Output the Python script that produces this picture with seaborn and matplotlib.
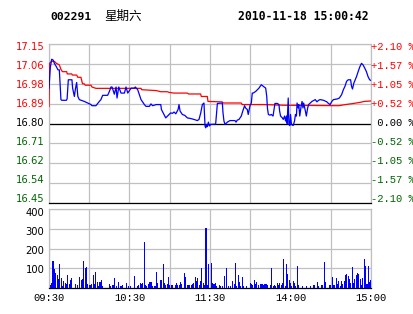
import matplotlib
matplotlib.use("Agg")
import matplotlib.pyplot as plt
import matplotlib.transforms as mtrans
import seaborn as sns

# ---------------- data ----------------
stock_code = "002291"
weekday = "星期六"
timestamp = "2010-11-18 15:00:42"
prev_close = 16.80
price_labels = ["17.15", "17.06", "16.98", "16.89", "16.80", "16.71", "16.62", "16.54", "16.45"]
pct_labels = ["+2.10 %", "+1.57 %", "+1.05 %", "+0.52 %", " 0.00 %", "-0.52 %", "-1.05 %", "-1.57 %", "-2.10 %"]
vol_labels = ["400", "300", "200", "100"]
time_labels = ["09:30", "10:30", "11:30", "14:00", "15:00"]
time_ticks = [0, 60, 120, 180, 240]

# (minute since 09:30, price) -- morning session
price_am = [
    (0, 16.957), (1, 17.050), (2, 17.085), (3, 17.082), (4, 17.067), (5.5, 17.052), (6.7, 17.038),
    (7.7, 17.038), (8.9, 16.906), (9.5, 16.903), (13, 16.903), (13.5, 16.910), (14.4, 16.994),
    (17.1, 16.994), (17.6, 16.957), (18.9, 16.920), (19.6, 16.950), (20.6, 16.982), (21.5, 16.920),
    (22.6, 16.906), (26.3, 16.898), (28.8, 16.891), (31.3, 16.884), (32, 16.879), (35, 16.879),
    (37.5, 16.898), (38.7, 16.906), (40, 16.925), (43.7, 16.925), (45, 16.942), (46.2, 16.962),
    (47, 16.962), (48.7, 16.930), (50, 16.962), (50.7, 16.913), (52, 16.962), (53.7, 16.935),
    (56.2, 16.935), (57.4, 16.962), (58.7, 16.935), (61.2, 16.957), (63.6, 16.957), (64.3, 16.962),
    (66.1, 16.950), (68.6, 16.906), (71.1, 16.884), (72.3, 16.876), (74.8, 16.876), (76, 16.887),
    (77.2, 16.879), (80, 16.884), (83.3, 16.884), (83.8, 16.862), (85.3, 16.845), (87, 16.825),
    (88.3, 16.833), (89.5, 16.840), (90.7, 16.847), (92, 16.845), (93.2, 16.851), (94.5, 16.843),
    (96.2, 16.862), (96.9, 16.884), (97.7, 16.855), (99.4, 16.840), (101.2, 16.836), (103.1, 16.825),
    (105.6, 16.822), (108.1, 16.818), (110.6, 16.813), (111.8, 16.818), (113.1, 16.847),
    (114.3, 16.884), (115.5, 16.891), (116.3, 16.789), (116.8, 16.781), (117.5, 16.796),
    (118, 16.786), (118.8, 16.806), (119.5, 16.789),
]
# afternoon session (minute 120 = 13:00)
price_pm = [
    (120.5, 16.796), (124.2, 16.797), (125.5, 16.889), (129.2, 16.891), (129.7, 16.847),
    (130.4, 16.811), (131.2, 16.796), (132.9, 16.806), (134.9, 16.813), (138.6, 16.813),
    (139.4, 16.806), (140.3, 16.815), (141.6, 16.818), (143.3, 16.833), (144.8, 16.862),
    (145.8, 16.879), (146.5, 16.869), (147.8, 16.862), (148.5, 16.840), (149.8, 16.879),
    (150.8, 16.891), (151.5, 16.935), (152.2, 16.935), (154, 16.942), (156.5, 16.957),
    (158.2, 16.972), (159.7, 16.965), (161.5, 16.957), (162.3, 16.920), (162.8, 16.869),
    (163.5, 16.840), (164.7, 16.837), (165.7, 16.840), (167, 16.833), (167.7, 16.862),
    (168.4, 16.889), (170.2, 16.889), (171.4, 16.884), (171.9, 16.855), (172.6, 16.833),
    (173.9, 16.825), (174.6, 16.818), (175.6, 16.833), (176.3, 16.811), (177, 16.833),
    (177.5, 16.800), (178.3, 16.913), (178.8, 16.796), (179.5, 16.791), (180, 16.840),
    (180.7, 16.796), (182, 16.791), (183, 16.811), (183.7, 16.840), (184.4, 16.833),
    (184.9, 16.891), (185.7, 16.869), (186.2, 16.884), (186.9, 16.833), (187.9, 16.876),
    (188.6, 16.898), (189.3, 16.869), (189.8, 16.891), (191.1, 16.855), (191.8, 16.833),
    (192.8, 16.869), (193.5, 16.884), (194.8, 16.891), (196, 16.898), (198.5, 16.906),
    (199.7, 16.896), (200.9, 16.903), (202.1, 16.906), (204.6, 16.903), (207.1, 16.896),
    (208.3, 16.889), (209.5, 16.884), (210.8, 16.898), (212, 16.906), (214.9, 16.909),
    (216.4, 16.913), (218.1, 16.928), (219.4, 16.950), (220.6, 16.965), (221.8, 16.987),
    (223, 16.994), (224.8, 16.994), (225.5, 16.965), (226.2, 16.953), (227.2, 16.979),
    (228, 16.991), (229.2, 17.008), (230.4, 17.030), (231.7, 17.052), (232.9, 17.067),
    (234.1, 17.060), (235.4, 17.045), (236.6, 17.030), (237.8, 17.008), (239, 16.994),
    (240, 16.991),
]
# average price line
avg_points = [
    (0, 16.876), (0.4, 17.067), (2, 17.076), (4, 17.076), (5.5, 17.067), (7.7, 17.060),
    (8.9, 17.040), (10, 17.030), (13.2, 17.030), (13.6, 17.020), (17, 17.020), (17.4, 17.015),
    (20.6, 17.015), (21.5, 17.005), (23.8, 17.005), (25, 16.976), (26.3, 16.976), (27, 16.970),
    (31.3, 16.970), (32, 16.962), (35, 16.956), (68.6, 16.956), (69, 16.950), (80, 16.946),
    (83.3, 16.941), (88.3, 16.941), (89.5, 16.938), (93.2, 16.935), (103.1, 16.935), (104, 16.931),
    (113, 16.931), (113.5, 16.920), (118, 16.920), (118.5, 16.898), (129, 16.896), (130, 16.891),
    (143.3, 16.891), (144, 16.884), (153, 16.884), (160, 16.884), (175, 16.881), (216, 16.879),
    (221, 16.884), (227, 16.889), (232, 16.894), (235, 16.898), (240, 16.900),
]
# (minute, volume) -- morning
volume_am = [
    (1, 13), (2, 25), (3, 138), (4, 98), (5, 78), (6, 68), (7, 44), (8, 122), (9, 52), (10, 10),
    (11, 35), (12, 27), (13, 22), (14, 66), (15, 22), (16, 42), (17, 52), (20, 22), (21, 17),
    (23, 57), (24, 40), (25, 47), (26, 138), (27, 101), (28, 108), (29, 22), (30, 13), (31, 13),
    (32, 18), (33, 68), (34, 22), (35, 83), (36, 32), (37, 10), (38, 32), (39, 40), (40, 12),
    (45, 22), (46, 12), (47, 17), (48, 13), (49, 52), (50, 12), (52, 32), (53, 12), (54, 12),
    (55, 13), (58, 27), (59, 10), (61, 12), (64, 62), (66, 10), (67, 15), (68, 25), (69, 22),
    (70, 24), (71, 235), (72, 15), (73, 12), (74, 22), (75, 32), (76, 32), (77, 12), (79, 12),
    (80, 83), (81, 25), (83, 42), (84, 39), (85, 123), (86, 25), (87, 13), (88, 22), (89, 57),
    (90, 15), (91, 13), (92, 13), (94, 13), (95, 25), (96, 15), (97, 15), (98, 29), (99, 20),
    (101, 78), (102, 57), (103, 13), (104, 13), (105, 15), (106, 17), (107, 18), (108, 27),
    (109, 57), (110, 37), (111, 50), (112, 15), (113, 37), (114, 103), (115, 25), (116, 15),
    (117, 305), (118, 17), (119, 123),
]
# afternoon
volume_pm = [
    (121, 128), (122, 25), (123, 20), (124, 24), (125, 12), (127, 15), (128, 12), (129, 12),
    (131, 62), (132, 103), (134, 12), (135, 12), (137, 37), (138, 22), (139, 128), (140, 12),
    (141, 68), (142, 32), (143, 12), (144, 57), (145, 12), (147, 12), (150, 27), (151, 20),
    (152, 17), (153, 40), (154, 20), (155, 32), (156, 17), (158, 22), (159, 18), (160, 15),
    (161, 22), (162, 18), (163, 13), (165, 13), (166, 103), (167, 12), (168, 17), (169, 12),
    (170, 27), (171, 15), (172, 27), (173, 13), (174, 27), (175, 149), (176, 12), (177, 122),
    (178, 72), (179, 40), (180, 27), (181, 12), (182, 35), (183, 24), (184, 12), (185, 113),
    (186, 15), (189, 12), (192, 12), (195, 12), (197, 15), (198, 13), (200, 32), (201, 12),
    (203, 15), (204, 15), (205, 133), (206, 32), (209, 15), (210, 17), (211, 57), (212, 15),
    (213, 17), (214, 52), (215, 20), (216, 34), (217, 12), (218, 37), (219, 20), (220, 35),
    (221, 66), (222, 72), (223, 62), (224, 47), (225, 27), (226, 108), (227, 27), (228, 44),
    (229, 66), (230, 76), (231, 71), (232, 44), (233, 17), (234, 52), (235, 149), (236, 113),
    (237, 20), (238, 113), (239, 32), (240, 40),
]

price_minute, price_value = zip(*(price_am + price_pm))
avg_minute, avg_value = zip(*avg_points)
vol_minute, vol_value = zip(*(volume_am + volume_pm))

# ---------------- layout ----------------
W, H = 414, 314
fig = plt.figure(figsize=(W / 100, H / 100), dpi=100)
fig.patch.set_facecolor("white")


def box(x0, y0, x1, y1):
    return [x0 / W, 1 - y1 / H, (x1 - x0) / W, (y1 - y0) / H]


ax_p = fig.add_axes(box(49, 44, 371, 203))
ax_v = fig.add_axes(box(49, 209, 371, 288))

GRID = "#c0c0c0"
RED = "#ff0000"
BLUE = "#0000ff"
GREEN = "#006400"

span = prev_close * 0.021
levels = [prev_close + span * k / 4 for k in range(-4, 5)]

sns.lineplot(x=list(avg_minute), y=list(avg_value), ax=ax_p, color=RED, lw=0.9, sort=False,
             estimator=None, zorder=3)
sns.lineplot(x=list(price_minute), y=list(price_value), ax=ax_p, color=BLUE, lw=0.9, sort=False,
             estimator=None, zorder=4)
sns.barplot(x=list(vol_minute), y=list(vol_value), ax=ax_v, native_scale=True, orient="x",
            color=BLUE, saturation=1, width=0.8, linewidth=0, errorbar=None, zorder=3,
            antialiased=False)

for ax in (ax_p, ax_v):
    ax.set_facecolor("white")
    ax.set_xlim(0, 240)
    ax.set_xticks(range(0, 241, 30))
    ax.tick_params(length=0, labelleft=False, labelbottom=False)
    ax.grid(True, color=GRID, lw=0.9, zorder=0)
    ax.set_axisbelow(True)
    for s in ("left", "right", "top"):
        ax.spines[s].set_color(GRID)
        ax.spines[s].set_linewidth(0.9)
    ax.spines["bottom"].set_color("black")
    ax.spines["bottom"].set_linewidth(0.9)
    ax.set_xlabel("")
    ax.set_ylabel("")

ax_p.set_ylim(levels[0], levels[-1])
ax_p.set_yticks(levels)
ax_p.axhline(prev_close, color="black", lw=0.9, zorder=1.5)

ax_v.set_ylim(0, 400)
ax_v.set_yticks([0, 100, 200, 300, 400])

# ---------------- texts ----------------
def fx(px):
    return px / W


def fy(py):
    return 1 - py / H


label_colors = [RED] * 4 + ["black"] + [GREEN] * 4
for k, (lab, pl) in enumerate(zip(price_labels, pct_labels)):
    ypx = 47.3 + k * 19.0
    fig.text(fx(44.5), fy(ypx), lab, ha="right", va="center", color=label_colors[k],
             family="DejaVu Sans", fontsize=7.2)
    fig.text(fx(371.5), fy(ypx), pl, ha="left", va="center", color=label_colors[k],
             family="Liberation Mono", fontsize=7.6)

for lab, ypx in zip(vol_labels, [212.7, 232.3, 251.0, 270.0]):
    fig.text(fx(44.5), fy(ypx), lab, ha="right", va="center", color="black",
             family="DejaVu Sans", fontsize=7.2)

tb = mtrans.blended_transform_factory(ax_v.transData, fig.transFigure)
for t, lab in zip(time_ticks, time_labels):
    ax_v.text(t, fy(298), lab, transform=tb, ha="center", va="center", color="black",
              family="Liberation Mono", fontsize=7.6, clip_on=False)

fig.text(fx(50), fy(16.7), stock_code, ha="left", va="center", family="DejaVu Sans Mono",
         weight="bold", fontsize=8.2, color="black")
fig.text(fx(104), fy(16.7), weekday, ha="left", va="center", family="Noto Sans CJK SC",
         fontsize=9, color="black")
fig.text(fx(237.7), fy(16.7), timestamp, ha="left", va="center", family="DejaVu Sans Mono",
         weight="bold", fontsize=8.3, color="black")

fig.savefig("out.png", dpi=100, facecolor="white")
